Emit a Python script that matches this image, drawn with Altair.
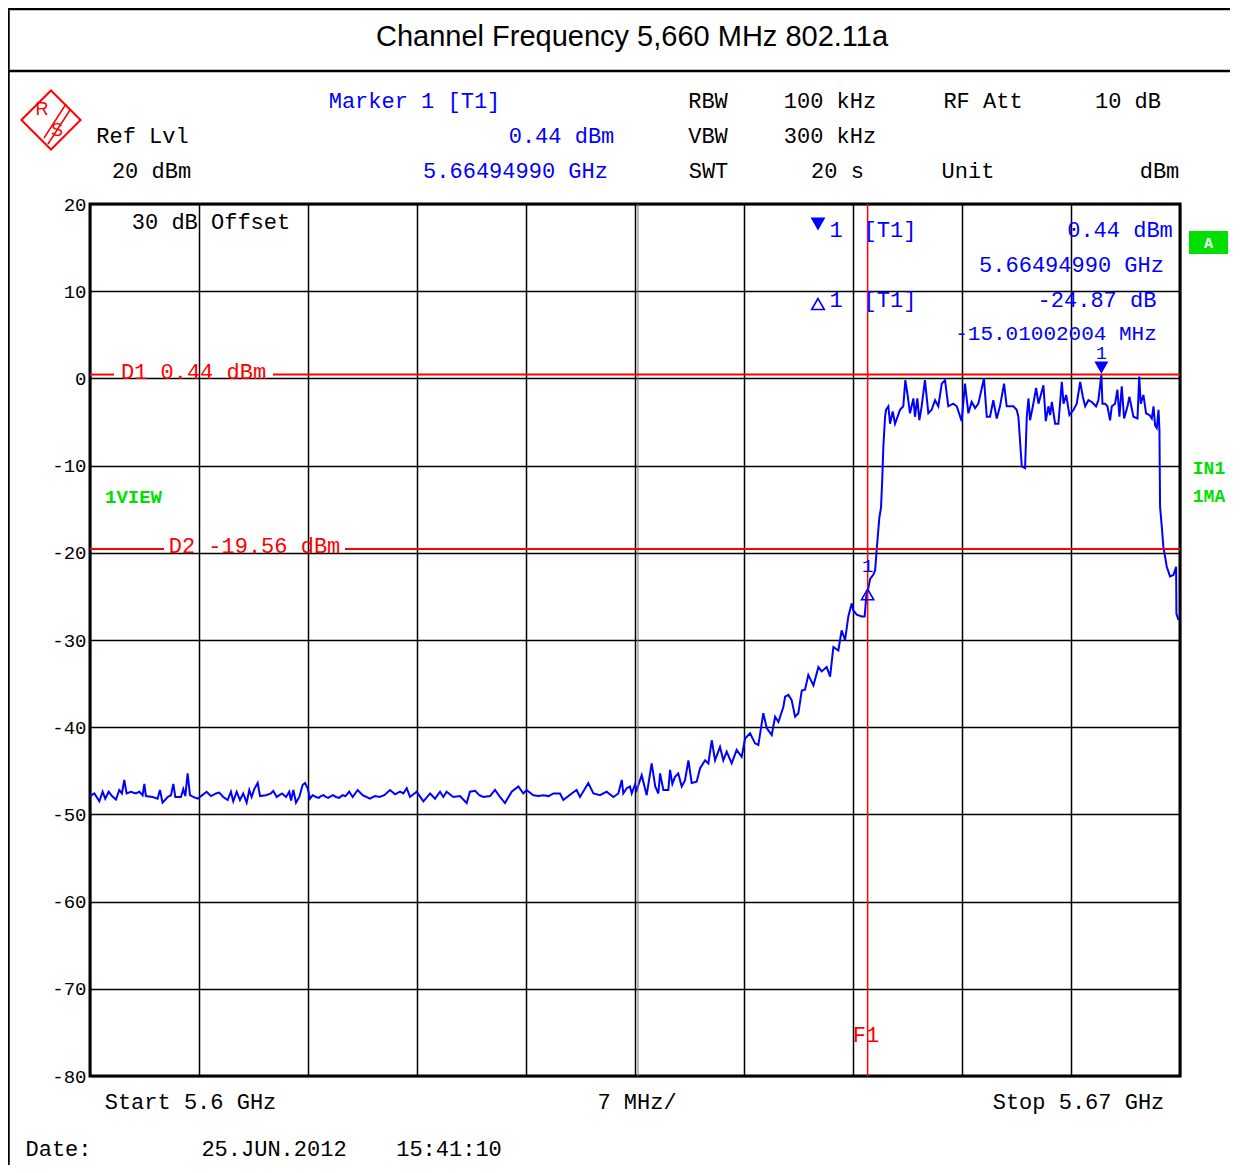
import altair as alt
import pandas as pd

# ---------------- data ----------------
# frequency offset from 5.6 GHz in MHz, level in dBm
noise_low = [(0.0,-47.9),(0.28,-47.6),(0.6,-48.5),(0.81,-47.4),(0.98,-48.2),(1.2,-47.4),(1.41,-47.9),(1.67,-48.3),
             (1.88,-47.2),(2.05,-47.6),(2.2,-46.05),(2.35,-47.6),(2.63,-47.4),(2.95,-47.6),(3.17,-47.4),(3.38,-47.8),
             (3.49,-46.5),(3.59,-47.9),(4.02,-48.0),(4.34,-48.2),(4.49,-47.2),(4.66,-48.65),(4.99,-48.0),(5.2,-47.8),
             (5.35,-46.5),(5.48,-48.0),(5.84,-48.0),(5.99,-47.1),(6.12,-47.9),(6.27,-45.3),(6.42,-47.8),(6.63,-48.0),
             (6.91,-48.2),(7.13,-47.9),(7.49,-47.4),(7.77,-47.9),(8.09,-47.6),(8.3,-47.5),(8.56,-48.0),(8.84,-48.35),
             (9.05,-47.4),(9.2,-48.5),(9.42,-47.4),(9.63,-48.35),(9.84,-47.6),(10.06,-48.65),(10.23,-47.2),(10.38,-48.0),
             (10.55,-47.1),(10.77,-46.4),(10.92,-47.9),(11.3,-47.8),(11.62,-47.6),(11.77,-47.3),(11.99,-48.0),(12.33,-47.6),
             (12.59,-48.0),(12.8,-47.4),(12.91,-48.4),(13.06,-47.2),(13.23,-48.65),(13.44,-48.0),(13.66,-46.6),(13.81,-46.4),
             (13.98,-47.0),(14.13,-48.2),(14.3,-47.8),(14.51,-48.0),(14.7,-48.1),(14.83,-47.9),(15.0,-47.8),(15.15,-48.0),
             (15.3,-48.1),(15.48,-47.9),(15.6,-47.8),(15.8,-48.0),(16.0,-48.1),(16.22,-47.8),(16.4,-47.9),(16.65,-47.4),
             (16.87,-48.0),(17.19,-47.2)]
noise_mid = [(17.51,-47.8),(17.98,-48.2),(18.3,-47.9),(18.6,-48.0),(18.9,-47.8),(19.27,-47.2),(19.59,-47.7),(19.91,-47.4),
             (20.12,-47.6),(20.34,-47.0),(20.55,-48.0),(20.98,-47.4),(21.41,-48.5),(21.84,-47.6),(22.16,-48.2),(22.48,-47.4),
             (22.69,-48.0),(22.9,-47.4),(23.33,-48.0),(23.76,-47.9),(24.19,-48.7),(24.4,-47.4),(24.73,-47.3),(25.0,-47.8),
             (25.26,-48.0),(25.69,-47.9),(26.01,-47.2),(26.33,-48.0),(26.65,-48.7),(27.08,-47.4),(27.51,-46.8),(27.83,-47.6),
             (28.04,-47.2),(28.47,-47.8),(28.8,-47.9),(29.11,-47.8),(29.45,-47.9),(29.76,-47.6),(30.18,-47.6),(30.4,-48.35),
             (30.93,-47.6),(31.25,-47.2),(31.47,-48.0),(32.0,-46.4),(32.33,-47.6),(32.75,-47.8),(33.18,-47.4),(33.61,-48.0),
             (33.93,-47.6),(34.15,-46.05),(34.25,-47.6),(34.47,-47.0),(34.68,-46.8),(34.79,-47.6),(35.0,-46.6),(35.11,-47.2)]
skirt = [(35.43,-45.5),(35.75,-47.8),(36.07,-44.15),(36.3,-46.8),(36.5,-47.6),(36.61,-45.3),(36.82,-47.2),(37.14,-47.2),
         (37.25,-44.9),(37.4,-46.5),(37.57,-45.7),(37.78,-45.3),(38.0,-46.8),(38.21,-46.1),(38.43,-43.8),(38.64,-46.4),
         (38.96,-46.25),(39.18,-44.7),(39.5,-43.8),(39.71,-44.15),(39.93,-41.5),(40.14,-43.8),(40.46,-42.25),(40.67,-43.8),
         (40.89,-42.8),(41.21,-44.15),(41.53,-42.6),(41.85,-43.4),(42.07,-41.3),(42.39,-40.7),(42.71,-41.85),(42.92,-42.05),
         (43.24,-38.4),(43.46,-40.1),(43.78,-40.9),(44.0,-38.8),(44.21,-39.4),(44.53,-37.65),(44.64,-36.5),(44.85,-36.3),
         (45.06,-36.9),(45.28,-38.8),(45.49,-38.4),(45.71,-35.8),(45.92,-35.7),(46.13,-34.0),(46.46,-35.2),(46.78,-33.1),
         (46.99,-33.6),(47.31,-33.1),(47.53,-34.2),(47.74,-30.8),(48.06,-31.2),(48.27,-28.9),(48.49,-30.0),(48.7,-27.3),
         (48.92,-25.8),(49.02,-26.6),(49.24,-27.1),(49.56,-27.3),(49.75,-27.3),(49.85,-25.0),(49.94,-24.43)]
channel = [(50.1,-23.0),(50.31,-22.5),(50.42,-22.0),(50.52,-19.7),(50.69,-16.0),(50.8,-14.8),(50.88,-11.5),(50.95,-7.8),
           (51.06,-4.4),(51.12,-3.6),(51.27,-3.2),(51.38,-5.2),(51.55,-3.8),(51.7,-5.2),(52.02,-3.6),(52.23,-3.2),
           (52.36,-0.2),(52.49,-1.7),(52.66,-4.0),(52.88,-2.3),(52.98,-4.4),(53.13,-2.3),(53.26,-4.8),(53.41,-3.2),
           (53.62,-0.2),(53.84,-4.0),(54.05,-3.6),(54.27,-2.5),(54.48,-3.2),(54.7,-0.6),(54.91,-0.2),(55.12,-3.2),
           (55.44,-2.9),(55.66,-3.2),(55.98,-4.9),(56.19,-0.6),(56.41,-4.0),(56.62,-2.7),(56.84,-3.4),(57.05,-2.9),
           (57.41,0.0),(57.59,-4.4),(57.8,-4.4),(58.01,-2.5),(58.23,-4.6),(58.44,-3.2),(58.7,-0.6),(58.87,-3.2),
           (59.3,-3.2),(59.51,-3.6),(59.62,-4.4),(59.84,-10.1),(60.05,-10.3),(60.16,-4.4),(60.27,-2.3),(60.37,-4.8),
           (60.55,-3.2),(60.76,-1.1),(60.91,-2.9),(61.23,-0.8),(61.38,-4.9),(61.55,-3.2),(61.66,-4.2),(61.77,-2.7),
           (61.98,-5.2),(62.19,-5.2),(62.41,-0.4),(62.52,-2.9),(62.69,-1.9),(62.9,-4.2),(63.16,-3.6),(63.37,-2.9),
           (63.59,-0.4),(63.76,-2.1),(63.91,-3.2),(64.12,-2.5),(64.34,-2.7),(64.61,-3.2),(64.76,-2.5),(64.95,0.44),
           (65.02,-2.9),(65.19,-2.9),(65.34,-3.2),(65.51,-4.8),(65.62,-3.2),(65.83,-2.9),(65.98,-1.3),(66.11,-4.4),
           (66.26,-0.9),(66.41,-4.6),(66.63,-3.2),(66.75,-2.1),(67.01,-4.4),(67.27,-4.6),(67.38,0.2),(67.48,-2.9),
           (67.65,-1.9),(67.82,-4.0),(68.04,-4.2),(68.19,-4.6),(68.3,-3.2),(68.4,-5.4),(68.51,-5.7),(68.62,-3.6),
           (68.68,-5.9)]
falling = [(68.72,-14.7),(68.83,-17.0),(68.93,-19.3),(69.15,-21.6),(69.36,-22.7),(69.58,-22.55),(69.75,-21.6),
           (69.77,-27.0),(69.9,-27.7)]

marker1 = {"f": [64.95], "dbm": [0.44]}          # Marker 1 [T1]
delta1 = {"f": [49.94], "dbm": [-24.43]}         # Delta 1 [T1]
display_lines = {"name": ["D1", "D2"], "dbm": [0.44, -19.56]}
f1_line = {"f": [49.94]}
y_ticks = [20, 10, 0, -10, -20, -30, -40, -50, -60, -70, -80]
x_grid = [0, 7, 14, 21, 28, 35, 42, 49, 56, 63, 70]
center_line = {"f": [35]}

# ---------------- layout ----------------
X0, Y0 = 90, 204          # page position of plot origin
W, H = 1090, 872
PAD_R, PAD_B = 50, 89
RIGHT_EDGE = 8 + (X0 - 8) + W + PAD_R
BOTTOM_EDGE = 8 + (Y0 - 8) + H + PAD_B
MONO = "Liberation Mono"
SANS = "Liberation Sans"
BLUE = "#0000ff"
RED = "#ff0000"
GREEN = "#00e000"

trace = pd.DataFrame(noise_low + noise_mid + skirt + channel + falling, columns=["f", "dbm"])

xscale = alt.Scale(domain=[0, 70], nice=False, zero=False)
yscale = alt.Scale(domain=[-80, 20], nice=False, zero=False)
xaxis = alt.Axis(values=x_grid, grid=True, labels=False, ticks=False, domain=False, title=None)
yaxis = alt.Axis(values=y_ticks, grid=True, ticks=False, domain=False, title=None,
                 labelFont=MONO, labelFontSize=19, labelColor="black", labelPadding=4,
                 labelFlush=False, labelExpr="'' + datum.value")


def X():
    return alt.X("f:Q", scale=xscale, axis=xaxis)


def Y():
    return alt.Y("dbm:Q", scale=yscale, axis=yaxis)


def label(s, cx, cy, color="black", size=22, font=MONO, weight="normal", align="center"):
    return alt.Chart(pd.DataFrame({"t": [s]})).mark_text(
        align=align, baseline="middle", font=font, fontSize=size, fontWeight=weight, color=color
    ).encode(text="t:N", x=alt.value(cx - X0), y=alt.value(cy - Y0))


def hline(px1, px2, py, color="black", width=2.5):
    return alt.Chart(pd.DataFrame({"a": [0]})).mark_rule(color=color, strokeWidth=width).encode(
        x=alt.value(px1 - X0), x2=alt.value(px2 - X0), y=alt.value(py - Y0))


def vline(px, py1, py2, color="black", width=2.5):
    return alt.Chart(pd.DataFrame({"a": [0]})).mark_rule(color=color, strokeWidth=width).encode(
        x=alt.value(px - X0), y=alt.value(py1 - Y0), y2=alt.value(py2 - Y0))


layers = []

# main trace (defines axes / grid)
layers.append(alt.Chart(trace).mark_line(color=BLUE, strokeWidth=2).encode(x=X(), y=Y()))

# doubled centre grid line
layers.append(alt.Chart(pd.DataFrame(center_line)).mark_rule(color="#777777", strokeWidth=1, xOffset=3).encode(x=X()))

# display lines D1 / D2 (interrupted by their labels)
dl = pd.DataFrame(display_lines)
d1 = dl[dl.name == "D1"]
d2 = dl[dl.name == "D2"]
for sub, segs in ((d1, [(90, 114), (273, 1180)]), (d2, [(90, 164), (345, 1180)])):
    for a, b in segs:
        layers.append(alt.Chart(sub).mark_rule(color=RED, strokeWidth=2).encode(
            y=Y(), x=alt.value(a - X0), x2=alt.value(b - X0)))

# F1 frequency line
layers.append(alt.Chart(pd.DataFrame(f1_line)).mark_rule(color=RED, strokeWidth=1.5).encode(x=X()))

# markers on trace
m1 = pd.DataFrame(marker1)
dm = pd.DataFrame(delta1)
layers.append(alt.Chart(m1).mark_point(shape="triangle-down", filled=True, size=196, color=BLUE, opacity=1,
                                       yOffset=-7).encode(x=X(), y=Y()))
layers.append(alt.Chart(m1).mark_text(text="1", font=MONO, fontSize=18, color=BLUE, dy=-21).encode(x=X(), y=Y()))
layers.append(alt.Chart(dm).mark_point(shape="triangle-up", filled=False, size=150, color=BLUE, strokeWidth=1.6,
                                       opacity=1, yOffset=3).encode(x=X(), y=Y()))
layers.append(alt.Chart(dm).mark_text(text="1", font=MONO, fontSize=19, color=BLUE, dy=-25).encode(x=X(), y=Y()))

# outer frame and title separator
layers.append(vline(8.5, 8, BOTTOM_EDGE, width=2.5))
layers.append(hline(8, RIGHT_EDGE, 9, width=2.5))
layers.append(hline(8, RIGHT_EDGE, 71, width=2.5))

# title
layers.append(label("Channel Frequency 5,660 MHz 802.11a", 632, 37, size=29, font=SANS))

# R&S logo
layers.append(alt.Chart(pd.DataFrame({"a": [0]})).mark_point(shape="diamond", size=3500, filled=False, color=RED,
                                                               strokeWidth=2, opacity=1).encode(
    x=alt.value(51 - X0), y=alt.value(120 - Y0)))
layers.append(label("R", 42, 110, color=RED, size=18, font=SANS))
layers.append(label("S", 57, 131, color=RED, size=18, font=SANS))
layers.append(alt.Chart(pd.DataFrame({"a": [0]})).mark_rule(color=RED, strokeWidth=1.5).encode(
    x=alt.value(66 - X0), y=alt.value(104 - Y0), x2=alt.value(44 - X0), y2=alt.value(138 - Y0)))
layers.append(alt.Chart(pd.DataFrame({"a": [0]})).mark_rule(color=RED, strokeWidth=1.5).encode(
    x=alt.value(70 - X0), y=alt.value(110 - Y0), x2=alt.value(48 - X0), y2=alt.value(144 - Y0)))

# header block
layers += [
    label("Marker 1 [T1]", 414.5, 101, BLUE),
    label("RBW", 708, 101), label("100 kHz", 830, 101), label("RF Att", 983, 101), label("10 dB", 1128, 101),
    label("Ref Lvl", 142.5, 136), label("0.44 dBm", 561.5, 136, BLUE),
    label("VBW", 708, 136), label("300 kHz", 830, 136),
    label("20 dBm", 151.5, 171), label("5.66494990 GHz", 515.5, 171, BLUE),
    label("SWT", 708.5, 171), label("20 s", 837.5, 171), label("Unit", 968, 171), label("dBm", 1159.5, 171),
]

# inside-plot annotations
layers += [
    label("30 dB Offset", 211, 222),
    label("1", 836, 230, BLUE), label("[T1]", 890, 230, BLUE), label("0.44 dBm", 1120, 230, BLUE),
    label("5.66494990 GHz", 1071.5, 265, BLUE),
    label("1", 836, 300, BLUE), label("[T1]", 890, 300, BLUE), label("-24.87 dB", 1097, 300, BLUE),
    label("-15.01002004 MHz", 1056, 334, BLUE, size=21),
    label("D1 0.44 dBm", 193.5, 372, RED),
    label("D2 -19.56 dBm", 254.5, 546, RED),
    label("F1", 866, 1035, RED),
    label("1VIEW", 133.5, 497, GREEN, size=19, weight="bold"),
    label("IN1", 1209, 469, GREEN, size=18, weight="bold"),
    label("1MA", 1209, 497, GREEN, size=18, weight="bold"),
]
# header marker symbols
layers.append(alt.Chart(pd.DataFrame({"a": [0]})).mark_point(shape="triangle-down", filled=True, size=220,
                                                               color=BLUE, opacity=1).encode(
    x=alt.value(818 - X0), y=alt.value(224 - Y0)))
layers.append(alt.Chart(pd.DataFrame({"a": [0]})).mark_point(shape="triangle-up", filled=False, size=160,
                                                               color=BLUE, strokeWidth=1.6, opacity=1).encode(
    x=alt.value(818 - X0), y=alt.value(304 - Y0)))

# green "A" box
layers.append(alt.Chart(pd.DataFrame({"a": [0]})).mark_rect(color=GREEN).encode(
    x=alt.value(1189 - X0), x2=alt.value(1228 - X0), y=alt.value(231 - Y0), y2=alt.value(254 - Y0)))
layers.append(label("A", 1208.5, 242.5, "white", size=15, weight="bold"))

# footer
layers += [
    label("Start 5.6 GHz", 190.5, 1102), label("7 MHz/", 637, 1102), label("Stop 5.67 GHz", 1078.5, 1102),
    label("Date:", 58.5, 1149), label("25.JUN.2012", 274, 1149), label("15:41:10", 449, 1149),
]

chart = alt.layer(*layers).properties(
    width=W, height=H,
    autosize=alt.AutoSizeParams(type="none"),
    padding={"left": X0 - 8, "top": Y0 - 8, "right": PAD_R, "bottom": PAD_B},
    background="white",
).configure_view(stroke="black", strokeWidth=3).configure_axis(
    gridColor="black", gridOpacity=1, gridWidth=1.5)

chart.save("out.html", embed_options={"renderer": "svg", "actions": False})
